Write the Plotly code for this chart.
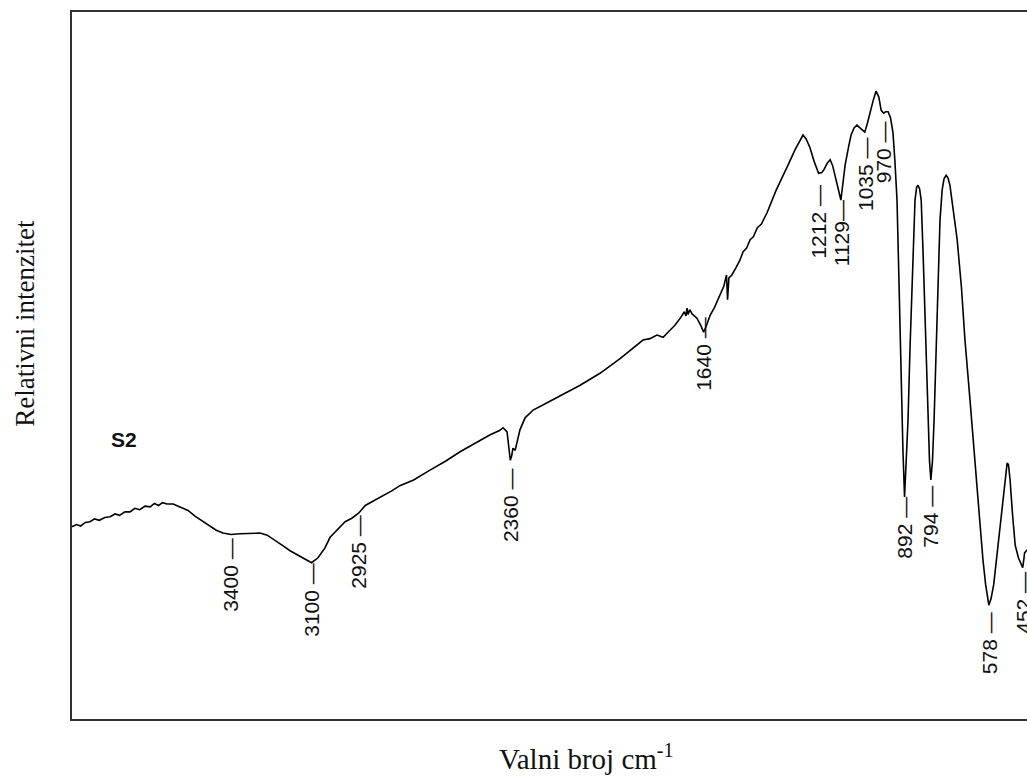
import plotly.graph_objects as go

# --- data: IR spectrum (wavenumber cm-1, relative intensity) ---
wavenumber = [3992, 3975, 3960, 3942, 3925, 3908, 3890, 3870, 3850, 3832, 3815, 3795, 3776, 3758, 3740,
              3720, 3701, 3685, 3670, 3655, 3638, 3615, 3590, 3560, 3534, 3505, 3478, 3455, 3430, 3400,
              3366, 3330, 3292, 3265, 3236, 3210, 3180, 3140, 3100, 3076, 3050, 3031, 3000, 2975, 2950,
              2925, 2900, 2870, 2845, 2800, 2771, 2720, 2659, 2600, 2547, 2490, 2435, 2400, 2387, 2372,
              2365, 2360, 2355, 2350, 2342, 2324, 2305, 2275, 2230, 2175, 2100, 2026, 1950, 1866, 1840,
              1814, 1791, 1770, 1747, 1725, 1712, 1706, 1702, 1698, 1692, 1683, 1665, 1650, 1640, 1628,
              1616, 1600, 1579, 1565, 1555, 1551, 1546, 1535, 1520, 1505, 1493, 1480, 1467, 1455, 1440,
              1425, 1404, 1370, 1329, 1300, 1270, 1258, 1244, 1228, 1212, 1200, 1192, 1180, 1169, 1160,
              1151, 1140, 1129, 1120, 1113, 1100, 1091, 1080, 1069, 1055, 1040, 1030, 1020, 1008, 998,
              988, 979, 970, 962, 953, 944, 935, 928, 920, 914, 909, 903, 898, 892, 886, 879, 872, 864,
              858, 853, 847, 842, 836, 830, 823, 816, 810, 804, 799, 794, 788, 782, 775, 767, 760, 752,
              745, 737, 730, 723, 710, 696, 680, 667, 648, 629, 615, 600, 590, 578, 570, 560, 548, 535,
              522, 510, 505, 499, 490, 480, 468, 460, 452, 448, 445, 436]
intensity = [27.2, 27.5, 27.3, 27.8, 27.9, 28.3, 28.1, 28.5, 28.6, 29.0, 28.8, 29.3, 29.3, 29.8, 29.6,
             30.1, 30.0, 30.5, 30.2, 30.6, 30.4, 30.4, 30.0, 29.5, 28.7, 28.0, 27.3, 26.7, 26.3, 26.1,
             26.2, 26.3, 26.3, 26.0, 25.3, 24.6, 23.8, 23.0, 22.1, 22.8, 24.2, 25.7, 27.0, 27.9, 28.4,
             29.1, 30.2, 30.8, 31.4, 32.3, 33.0, 33.8, 35.2, 36.5, 37.8, 39.0, 40.2, 40.8, 41.2, 40.6,
             38.5, 36.6, 37.2, 38.3, 38.0, 40.9, 42.6, 43.7, 44.6, 45.7, 47.2, 48.9, 51.0, 53.6, 53.8,
             54.3, 54.0, 54.8, 55.7, 56.8, 57.6, 57.0, 58.1, 57.2, 57.9, 57.3, 56.7, 55.6, 54.7, 55.8,
             57.1, 58.2, 60.0, 61.2, 62.8, 59.3, 62.4, 62.8, 63.8, 64.9, 66.1, 66.6, 67.8, 68.2, 69.5,
             70.0, 71.6, 74.8, 78.1, 80.5, 82.6, 82.0, 80.8, 78.8, 77.2, 77.3, 77.7, 78.6, 79.1, 78.3,
             76.9, 75.0, 73.4, 76.2, 78.4, 81.0, 82.6, 83.6, 84.0, 83.5, 83.0, 84.3, 85.9, 87.6, 88.8,
             88.0, 86.1, 85.7, 85.9, 85.9, 85.0, 82.9, 79.0, 73.4, 64.0, 55.0, 45.0, 38.0, 31.4, 36.0,
             42.3, 52.0, 62.1, 68.5, 73.4, 75.2, 75.5, 75.0, 73.4, 66.0, 56.4, 48.0, 40.9, 36.5, 33.8,
             36.5, 42.3, 52.0, 63.5, 70.5, 74.8, 76.4, 76.9, 76.5, 75.5, 72.0, 67.8, 61.0, 53.6, 45.0,
             36.6, 29.5, 22.5, 19.0, 16.1, 17.0, 19.0, 23.0, 28.1, 32.5, 36.2, 36.0, 33.8, 29.0, 24.6,
             22.8, 22.2, 21.4, 22.5, 23.5, 23.9]

# peak labels (wavenumber) and label text
peak_wn = [3400, 3100, 2925, 2360, 1640, 1212, 1129, 1035, 970, 892, 794, 578, 452]
peak_text = ["3400 \u2014", "3100 \u2014", "2925 \u2014", "2360 \u2014", "1640 \u2014",
             "1212 \u2014", "1129\u2014", "1035 \u2014", "970 \u2014", "892 \u2014",
             "794 \u2014", "578 \u2014", "452 \u2014"]
# vertical placement of each rotated label (centre, in intensity units)
label_y = [20.4, 16.8, 23.6, 30.3, 51.6, 70.3, 68.7, 77.1, 80.1, 27.0, 28.6, 10.7, 16.4]

sample_name = "S2"
x_title = "Valni broj cm<sup>-1</sup>"
y_title = "Relativni intenzitet"

fig = go.Figure()
fig.add_trace(go.Scatter(x=wavenumber, y=intensity, mode="lines",
                         line=dict(color="#000000", width=1.6), hoverinfo="skip",
                         showlegend=False))

for wn, txt, yy in zip(peak_wn, peak_text, label_y):
    fig.add_annotation(x=wn, y=yy, xref="x", yref="y", text=txt, textangle=-90,
                       showarrow=False, xanchor="center", yanchor="middle",
                       font=dict(family="Liberation Sans, Arial, sans-serif", size=21, color="#111111"))

fig.add_annotation(x=0.0545, y=0.396, xref="paper", yref="paper", text="<b>" + sample_name + "</b>",
                   showarrow=False, xanchor="center", yanchor="middle",
                   font=dict(family="Liberation Sans, Arial, sans-serif", size=21, color="#111111"))

fig.add_annotation(x=0.539, y=-0.054, xref="paper", yref="paper", text=x_title,
                   showarrow=False, xanchor="center", yanchor="middle",
                   font=dict(family="Liberation Serif, Times New Roman, serif", size=29, color="#111111"))

fig.add_annotation(x=-0.0495, y=0.56, xref="paper", yref="paper", text=y_title, textangle=-90,
                   showarrow=False, xanchor="center", yanchor="middle",
                   font=dict(family="Liberation Serif, Times New Roman, serif", size=27, color="#111111"))

fig.update_layout(
    width=1027, height=776,
    margin=dict(l=72, r=0, t=12, b=57, autoexpand=False),
    paper_bgcolor="white", plot_bgcolor="white",
    xaxis=dict(range=[3992, 436], showticklabels=False, ticks="", showgrid=False,
               zeroline=False, showline=True, linecolor="#333333", linewidth=2, mirror=True),
    yaxis=dict(range=[0, 100], showticklabels=False, ticks="", showgrid=False,
               zeroline=False, showline=True, linecolor="#333333", linewidth=2, mirror=False),
)

fig.write_html("out.html", config={"displayModeBar": False},
               post_script="document.body.style.margin='0';document.body.style.overflow='hidden';")
